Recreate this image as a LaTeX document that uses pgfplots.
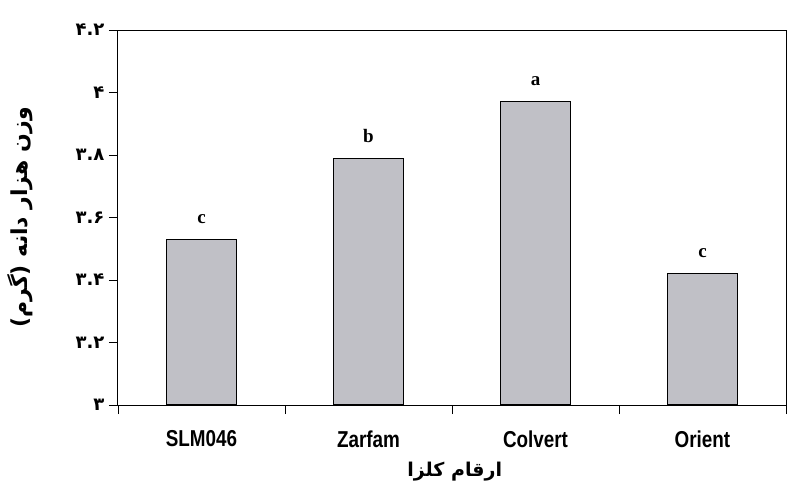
\documentclass[border=0pt]{standalone}
\usepackage{fontspec}
\usepackage{pgfplots}
\usepackage{pgfplotstable}
\pgfplotsset{compat=1.18}
\setmainfont{Liberation Serif}
\newfontfamily\fa[Script=Arabic]{DejaVu Sans}
\newfontfamily\narrow[FakeStretch=0.82]{Liberation Sans}
\TeXXeTstate=1
\definecolor{barfill}{RGB}{192,192,198}
\pgfplotstableread{
x y lab
0 3.53 c
1 3.79 b
2 3.97 a
3 3.42 c
}\data
\begin{document}
\begin{tikzpicture}
\useasboundingbox (-118pt,-94pt) rectangle (670pt,405pt);
\begin{axis}[
  at={(0pt,0pt)}, anchor=south west,
  scale only axis, width=668pt, height=375pt,
  xmin=-0.5, xmax=3.5, ymin=3, ymax=4.2,
  axis line style={line width=1pt},
  tick align=outside, major tick length=9pt,
  tick style={black, line width=0.8pt},
  xtick pos=bottom, ytick pos=left,
  xtick={-0.5,0.5,1.5,2.5,3.5}, xticklabels={},
  extra x ticks={0,1,2,3},
  extra x tick labels={SLM046,Zarfam,Colvert,Orient},
  extra x tick style={major tick length=0pt,
    xticklabel style={font=\narrow\bfseries\fontsize{23}{23}\selectfont, yshift=-22pt}},
  ytick={3,3.2,3.4,3.6,3.8,4,4.2},
  yticklabels={{\fa\bfseries ۳},{\fa\bfseries ۳.۲},{\fa\bfseries ۳.۴},{\fa\bfseries ۳.۶},{\fa\bfseries ۳.۸},{\fa\bfseries ۴},{\fa\bfseries ۴.۲}},
  yticklabel style={font=\fontsize{18}{18}\selectfont, xshift=-1pt},
  ylabel={\fa\bfseries\beginR وزن هزار دانه (گرم)\endR},
  ylabel style={font=\fontsize{22}{22}\selectfont, at={(axis description cs:-0.147,0.5)}, anchor=center},
  xlabel={\fa\bfseries\beginR ارقام کلزا\endR},
  xlabel style={font=\fontsize{19}{19}\selectfont, at={(axis description cs:0.504,-0.178)}, anchor=center},
  ybar, bar width=0.42,
  nodes near coords,
  point meta=explicit symbolic,
  nodes near coords style={font=\bfseries\fontsize{19}{19}\selectfont, anchor=south, yshift=12pt},
]
\addplot[fill=barfill, draw=black, line width=1.1pt] table[x=x, y=y, meta=lab]{\data};
\end{axis}
\end{tikzpicture}
\end{document}
